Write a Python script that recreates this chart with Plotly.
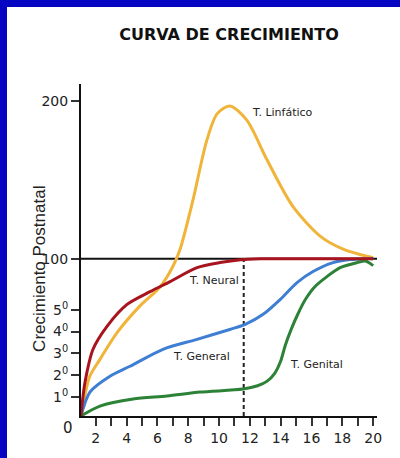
import plotly.graph_objects as go

# ---- data (age in years, growth in axis units) ----
lymph_age = [1.04, 1.6, 2.27, 3.38, 4.87, 6.17, 7.0, 7.47, 8.3, 9.2, 9.87, 10.7, 11.8, 13.1, 14.8, 16.6, 18.05, 19.2, 20.0]
lymph_val = [0, 25, 36, 53, 70, 82, 95, 106, 137, 175, 192, 197, 188, 163, 133, 114, 106, 102.5, 100.6]

neural_age = [1.04, 1.1, 1.3, 1.82, 2.73, 4.03, 5.52, 6.82, 8.57, 10.06, 11.4, 12.7, 14.0, 16.0, 18.0, 20.0]
neural_val = [0, 6.3, 21.5, 42.4, 57, 70.9, 79, 85.4, 94.3, 97.5, 99.3, 99.9, 100, 100, 100, 100]

general_age = [1.04, 1.62, 2.92, 4.22, 6.36, 8.57, 10.7, 11.7, 12.86, 13.96, 15.06, 16.1, 17.4, 18.5, 19.5, 20.0]
general_val = [0, 15.2, 25.3, 31.6, 42.4, 48.7, 55, 58.2, 64.6, 74, 84.8, 91.8, 97.5, 99.4, 100, 100]

genital_age = [1.04, 2.27, 4.42, 6.62, 8.77, 11.56, 12.5, 13.1, 13.6, 14.0, 14.3, 14.7, 15.1, 15.6, 16.2, 17.0, 17.86, 18.96, 19.5, 20.0]
genital_val = [0, 6.3, 10.8, 12.7, 15.2, 17.1, 19.2, 22, 27, 35, 45, 55.5, 64.5, 74, 82, 88.6, 94.3, 97.5, 98.5, 95.6]

ref_level = 100
ref_age = [1.04, 20.25]
puberty_age = 11.6

x_tickvals = list(range(2, 21))
x_ticktext = [str(v) if v % 2 == 0 else "" for v in x_tickvals]

y_tickvals = [12.0, 25.9, 39.8, 53.7, 67.6, 100, 200]
y_ticktext = ["1<sup>0</sup>", "2<sup>0</sup>", "3<sup>0</sup>", "4<sup>0</sup>", "5<sup>0</sup>", "100", "200"]

C_YELLOW = "#F0B43A"
C_RED = "#A8141E"
C_BLUE = "#3E7ED3"
C_GREEN = "#2C8236"
BLUE_FRAME = "#0606C2"

fig = go.Figure()

fig.add_trace(go.Scatter(x=ref_age, y=[ref_level, ref_level], mode="lines",
                         line=dict(color="#111111", width=2), hoverinfo="skip"))
fig.add_trace(go.Scatter(x=[puberty_age, puberty_age], y=[0, ref_level], mode="lines",
                         line=dict(color="#222222", width=2, dash="4px,3px"), hoverinfo="skip"))

for xs, ys, col in [(lymph_age, lymph_val, C_YELLOW),
                    (general_age, general_val, C_BLUE),
                    (genital_age, genital_val, C_GREEN),
                    (neural_age, neural_val, C_RED)]:
    fig.add_trace(go.Scatter(x=xs, y=ys, mode="lines",
                             line=dict(color=col, width=3, shape="spline", smoothing=0.8)))

lab_font = dict(family="DejaVu Sans", size=11, color="#222222")
annotations = [
    dict(x=14.1, y=192.7, text="T. Linfático"),
    dict(x=9.68, y=85.9, text="T. Neural"),
    dict(x=8.83, y=37.9, text="T. General"),
    dict(x=16.3, y=32.8, text="T. Genital"),
]
annots = [dict(a, xref="x", yref="y", showarrow=False, font=lab_font) for a in annotations]
annots.append(dict(x=-0.044, y=-0.036, xref="paper", yref="paper", text="0", showarrow=False,
                   xanchor="center", yanchor="middle",
                   font=dict(family="DejaVu Sans", size=15, color="#222222")))
annots.append(dict(x=(40 - 81) / 296, y=(418 - 270) / 334, xref="paper", yref="paper",
                   text="Crecimiento Postnatal", textangle=-90, showarrow=False,
                   xanchor="center", yanchor="middle",
                   font=dict(family="Liberation Sans", size=17, color="#222222")))

# figure sits inside a 7px blue band on the top and left of the page
fig.update_layout(
    width=393, height=451, autosize=False,
    margin=dict(l=74, r=23, t=77, b=40),
    paper_bgcolor="white", plot_bgcolor="white",
    showlegend=False,
    title=dict(text="<b>CURVA DE CRECIMIENTO</b>", x=222/393, y=1 - 27/451,
               xanchor="center", yanchor="middle", xref="container", yref="container",
               font=dict(family="DejaVu Sans", size=16, color="#111111")),
    annotations=annots,
    xaxis=dict(range=[1.04, 20.25], tickvals=x_tickvals, ticktext=x_ticktext,
               showgrid=False, zeroline=False, showline=True, linecolor="#111111", linewidth=2,
               ticks="outside", ticklen=8, tickwidth=1.5, tickcolor="#333333",
               tickfont=dict(family="DejaVu Sans", size=14, color="#222222")),
    yaxis=dict(range=[0, 211], tickvals=y_tickvals, ticktext=y_ticktext,
               showgrid=False, zeroline=False, showline=True, linecolor="#111111", linewidth=2,
               ticks="outside", ticklen=8, tickwidth=1.5, tickcolor="#333333",
               tickfont=dict(family="DejaVu Sans", size=14, color="#222222")),
)

fig.write_html("out.html", config={"displayModeBar": False},
               post_script=("document.body.style.margin='7px 0 0 7px';"
                            "document.body.style.background='" + BLUE_FRAME + "';"
                            "document.body.style.overflow='hidden';"))
